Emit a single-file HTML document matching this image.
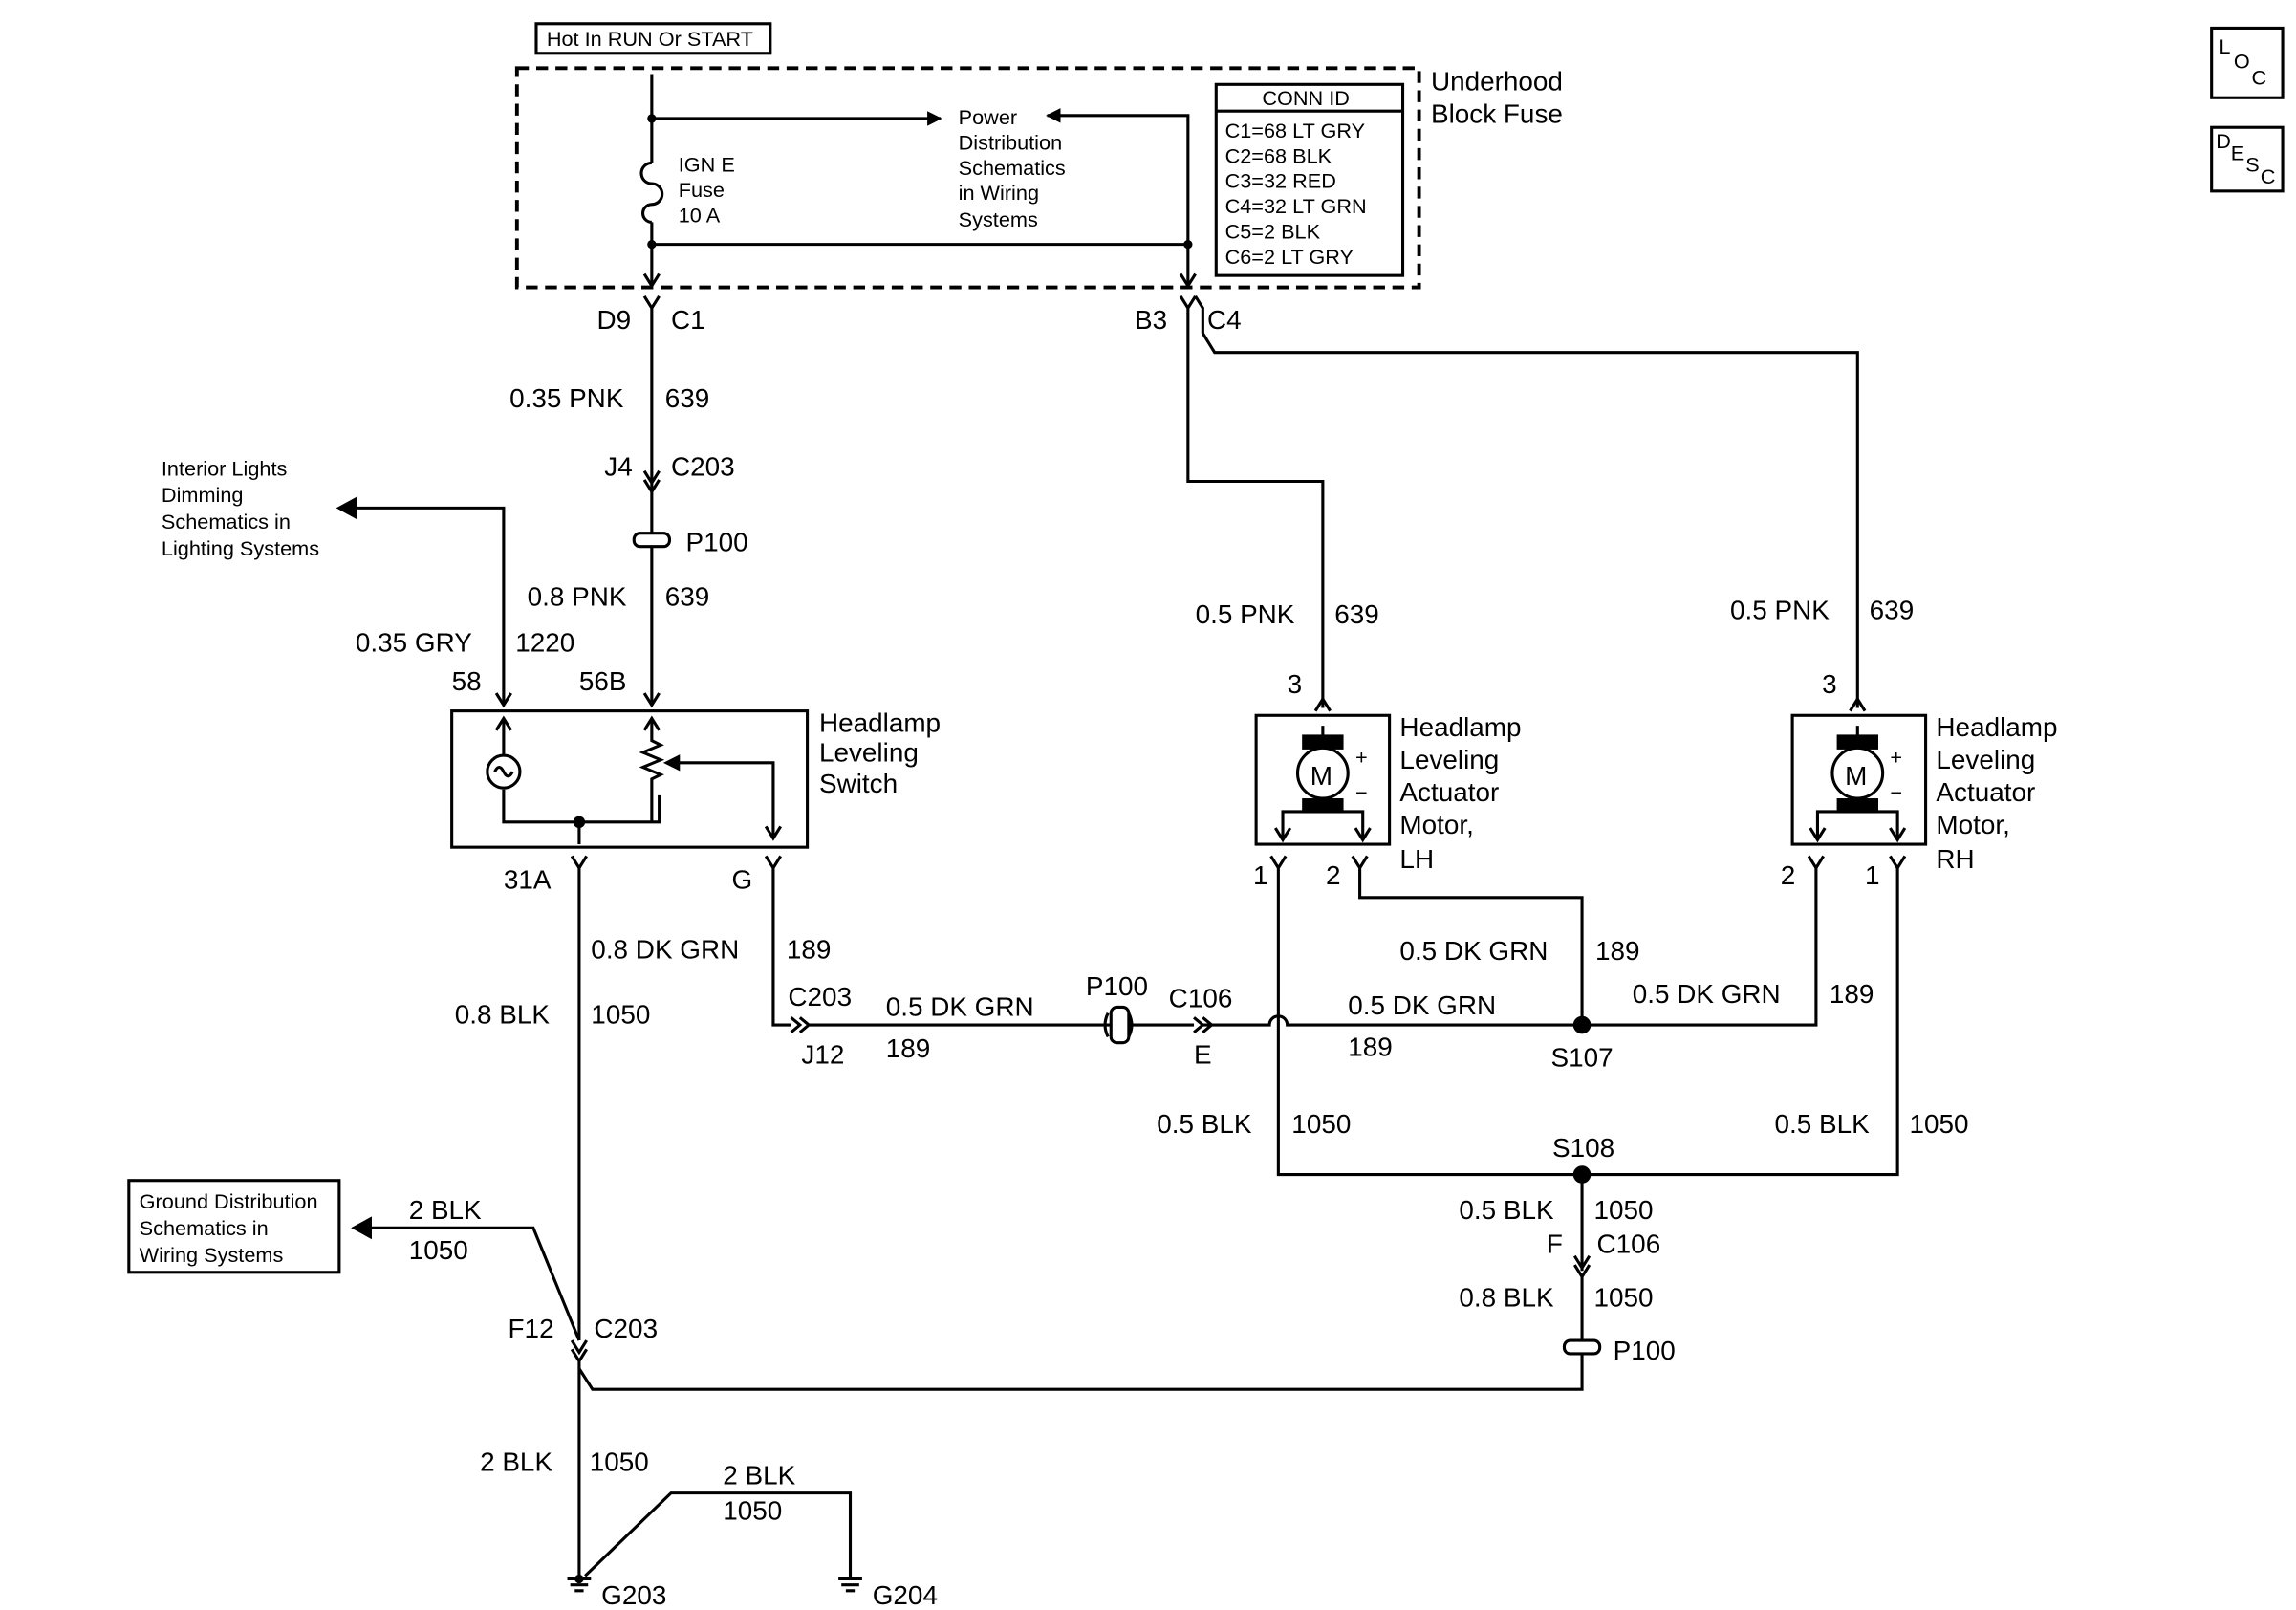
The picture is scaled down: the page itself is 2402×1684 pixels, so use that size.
<!DOCTYPE html>
<html><head><meta charset="utf-8"><style>
html,body{margin:0;padding:0;background:#fff;}
svg{display:block;}
text{font-family:"Liberation Sans",Arial,sans-serif;fill:#000;}
.l{font-size:18px;}
.s{font-size:14px;}
</style></head><body>
<svg width="2402" height="1684" viewBox="0 0 1550 1087" preserveAspectRatio="none" xmlns="http://www.w3.org/2000/svg">
<defs>
<marker id="ar" markerWidth="10" markerHeight="10" refX="9" refY="5" orient="auto" markerUnits="userSpaceOnUse"><path d="M0,0 L10,5 L0,10 z" fill="#000"/></marker>
</defs>
<g stroke="#000" stroke-width="2" fill="none">
<!-- top -->
<rect x="362" y="16" width="158" height="20"/>
<rect x="349" y="46" width="609" height="148" stroke-dasharray="8,5" stroke-width="2.5"/>
<rect x="821" y="57" width="126" height="129"/>
<line x1="821" y1="75" x2="947" y2="75"/>
<path d="M440,50 V110 M440,150 V192"/>
<path d="M440,110 a7,7 0 0 0 0,14 a7,7 0 0 1 0,14 a6,6 0 0 0 0,12"/>
<circle cx="440" cy="80" r="2" fill="#000"/>
<line x1="440" y1="80" x2="635" y2="80" marker-end="url(#ar)"/>
<path d="M802,192 V78 H707" marker-end="url(#ar)"/>
<line x1="440" y1="165" x2="802" y2="165"/>
<circle cx="440" cy="165" r="2" fill="#000"/>
<circle cx="802" cy="165" r="2" fill="#000"/>
<path d="M435,185 L440,193 L445,185 M797,185 L802,193 L807,185"/>
<!-- connectors C1 -->
<path d="M435,200 L440,208 L445,200 M440,208 V305"/>
<path d="M435,318 L440,326 L445,318 M435,324 L440,332 L445,324 M440,305 V360"/>
<rect x="428" y="360" width="24" height="9" rx="4"/>
<path d="M440,369 V476"/>
<path d="M435,468 L440,476 L445,468"/>
<!-- left wire 58 -->
<path d="M340,476 V343 H240"/>
<path d="M240,337 L229,343 L240,349 z" fill="#000"/>
<path d="M335,468 L340,476 L345,468"/>
<!-- switch -->
<rect x="305" y="480" width="240" height="92"/>
<path d="M340,486 V510 M340,533 V555 H445 V537" />
<path d="M335,493 L340,485 L345,493 M435,493 L440,485 L445,493"/>
<circle cx="340" cy="521" r="11"/>
<path d="M334,521 q3,-6 6,0 q3,6 6,0"/>
<path d="M440,486 V500 l6,3 l-12,5 l12,5 l-12,5 l12,5 l-6,3 V555"/>
<path d="M450,515 H522 V566" />
<path d="M450,515 l8,-4 v8 z" fill="#000"/>
<path d="M517,558 L522,566 L527,558"/>
<circle cx="391" cy="555" r="3" fill="#000"/>
<path d="M391,555 V570"/>
<!-- B3 C4 -->
<path d="M797,200 L802,208 L807,200 M802,208 V325 H893 V478"/>
<path d="M812,225 L820,238 H1254 V478"/>
<path d="M807,200 L812,208 L812,225"/>
<!-- motors -->
<rect x="848" y="483" width="90" height="87"/>
<rect x="1210" y="483" width="90" height="87"/>
<path d="M888,480 l5,-8 l5,8 M1249,480 l5,-8 l5,8"/>
<g>
<rect x="880" y="497" width="26" height="8" fill="#000"/><rect x="880" y="540" width="26" height="8" fill="#000"/>
<circle cx="893" cy="522" r="17" fill="#fff"/>
<path d="M893,497 V490 M866,567 V548 H880 M920,567 V548 H906"/>
<rect x="1241" y="497" width="26" height="8" fill="#000"/><rect x="1241" y="540" width="26" height="8" fill="#000"/>
<circle cx="1254" cy="522" r="17" fill="#fff"/>
<path d="M1254,497 V490 M1227,567 V548 H1241 M1281,567 V548 H1267"/>
<path d="M861,559 l5,8 l5,-8 M915,559 l5,8 l5,-8 M1222,559 l5,8 l5,-8 M1276,559 l5,8 l5,-8"/>
</g>
<!-- bottom pins -->
<path d="M386,578 L391,586 L396,578 M391,586 V905"/>
<path d="M517,578 L522,586 L527,578 M522,586 V692 H534"/>
<path d="M534,687 l6,5 l-6,5 M540,687 l6,5 l-6,5 M546,692 H750"/>
<path d="M748,684 q-4,8 0,16 M762,684 q4,8 0,16"/>
<rect x="750" y="680" width="12" height="24" rx="4"/>
<path d="M762,692 H806 M806,687 l6,5 l-6,5 M812,687 l6,5 l-6,5 M812,692 H857 a6,6 0 0 1 12,0 H1226 V586"/>
<path d="M858,578 L863,586 L868,578 M863,586 V793 H1281 V586"/>
<path d="M913,578 L918,586 L923,578 M918,586 V606 H1068 V692"/>
<path d="M1221,578 L1226,586 L1231,578 M1276,578 L1281,586 L1286,578"/>
<circle cx="1068" cy="692" r="5" fill="#000"/>
<circle cx="1068" cy="793" r="5" fill="#000"/>
<path d="M1068,793 V858 M1063,848 l5,8 l5,-8 M1063,854 l5,8 l5,-8 M1068,862 V905"/>
<rect x="1056" y="905" width="24" height="9" rx="4"/>
<path d="M1068,914 V938 H400 L391,924"/>
<!-- ground dist -->
<rect x="87" y="797" width="142" height="62"/>
<path d="M250,829 H360 L391,905"/>
<path d="M250,823 L239,829 L250,835 z" fill="#000"/>
<path d="M386,905 L391,913 L396,905 M386,911 L391,919 L396,911 M391,919 V1066"/>
<path d="M395,1064 L453,1008 H574 V1066"/>
<path d="M383,1066 h16 M385,1070 h12 M388,1074 h6"/>
<path d="M566,1066 h16 M568,1070 h12 M571,1074 h6"/>
<!-- LOC DESC -->
<rect x="1493" y="19" width="48" height="47"/>
<rect x="1493" y="86" width="48" height="43"/>
</g>
<circle cx="391" cy="1066" r="3" fill="#000"/>
<text x="892" y="530" class="l" text-anchor="middle">M</text>
<text x="1253" y="530" class="l" text-anchor="middle">M</text>
<text x="915" y="516" class="s">+</text><text x="915" y="540" class="s">−</text>
<text x="1276" y="516" class="s">+</text><text x="1276" y="540" class="s">−</text>
<g class="s">
<text x="369" y="31">Hot In RUN Or START</text>
<text x="852" y="71">CONN ID</text>
<text x="827" y="93">C1=68 LT GRY</text>
<text x="827" y="110">C2=68 BLK</text>
<text x="827" y="127">C3=32 RED</text>
<text x="827" y="144">C4=32 LT GRN</text>
<text x="827" y="161">C5=2 BLK</text>
<text x="827" y="178">C6=2 LT GRY</text>
<text x="458" y="116">IGN E</text><text x="458" y="133">Fuse</text><text x="458" y="150">10 A</text>
<text x="647" y="84">Power</text><text x="647" y="101">Distribution</text><text x="647" y="118">Schematics</text><text x="647" y="135">in Wiring</text><text x="647" y="153">Systems</text>
<text x="109" y="321">Interior Lights</text><text x="109" y="339">Dimming</text><text x="109" y="357">Schematics in</text><text x="109" y="375">Lighting Systems</text>
<text x="94" y="816">Ground Distribution</text><text x="94" y="834">Schematics in</text><text x="94" y="852">Wiring Systems</text>
<text x="1498" y="36">L</text><text x="1508" y="46">O</text><text x="1520" y="57">C</text>
<text x="1496" y="100">D</text><text x="1506" y="108">E</text><text x="1516" y="116">S</text><text x="1526" y="124">C</text>
</g>
<g class="l">
<text x="966" y="61">Underhood</text><text x="966" y="83">Block Fuse</text>
<text x="403" y="222">D9</text><text x="453" y="222">C1</text>
<text x="766" y="222">B3</text><text x="815" y="222">C4</text>
<text x="344" y="275">0.35 PNK</text><text x="449" y="275">639</text>
<text x="408" y="321">J4</text><text x="453" y="321">C203</text>
<text x="463" y="372">P100</text>
<text x="356" y="409">0.8 PNK</text><text x="449" y="409">639</text>
<text x="240" y="440">0.35 GRY</text><text x="348" y="440">1220</text>
<text x="305" y="466">58</text><text x="391" y="466">56B</text>
<text x="553" y="494">Headlamp</text><text x="553" y="514">Leveling</text><text x="553" y="535">Switch</text>
<text x="807" y="421">0.5 PNK</text><text x="901" y="421">639</text>
<text x="1168" y="418">0.5 PNK</text><text x="1262" y="418">639</text>
<text x="869" y="468">3</text><text x="1230" y="468">3</text>
<text x="945" y="497">Headlamp</text><text x="945" y="519">Leveling</text><text x="945" y="541">Actuator</text><text x="945" y="563">Motor,</text><text x="945" y="586">LH</text>
<text x="1307" y="497">Headlamp</text><text x="1307" y="519">Leveling</text><text x="1307" y="541">Actuator</text><text x="1307" y="563">Motor,</text><text x="1307" y="586">RH</text>
<text x="846" y="597">1</text><text x="895" y="597">2</text><text x="1202" y="597">2</text><text x="1259" y="597">1</text>
<text x="340" y="600">31A</text><text x="494" y="600">G</text>
<text x="399" y="647">0.8 DK GRN</text><text x="531" y="647">189</text>
<text x="307" y="691">0.8 BLK</text><text x="399" y="691">1050</text>
<text x="532" y="679">C203</text><text x="541" y="718">J12</text>
<text x="598" y="686">0.5 DK GRN</text><text x="598" y="714">189</text>
<text x="733" y="672">P100</text><text x="789" y="680">C106</text><text x="806" y="718">E</text>
<text x="945" y="648">0.5 DK GRN</text><text x="1077" y="648">189</text>
<text x="910" y="685">0.5 DK GRN</text><text x="910" y="713">189</text>
<text x="1102" y="677">0.5 DK GRN</text><text x="1235" y="677">189</text>
<text x="1047" y="720">S107</text>
<text x="781" y="765">0.5 BLK</text><text x="872" y="765">1050</text>
<text x="1198" y="765">0.5 BLK</text><text x="1289" y="765">1050</text>
<text x="1048" y="781">S108</text>
<text x="985" y="823">0.5 BLK</text><text x="1076" y="823">1050</text>
<text x="1044" y="846">F</text><text x="1078" y="846">C106</text>
<text x="985" y="882">0.8 BLK</text><text x="1076" y="882">1050</text>
<text x="1089" y="918">P100</text>
<text x="276" y="823">2 BLK</text><text x="276" y="850">1050</text>
<text x="343" y="903">F12</text><text x="401" y="903">C203</text>
<text x="324" y="993">2 BLK</text><text x="398" y="993">1050</text>
<text x="488" y="1002">2 BLK</text><text x="488" y="1026">1050</text>
<text x="406" y="1083">G203</text><text x="589" y="1083">G204</text>
</g>
</svg>
</body></html>
